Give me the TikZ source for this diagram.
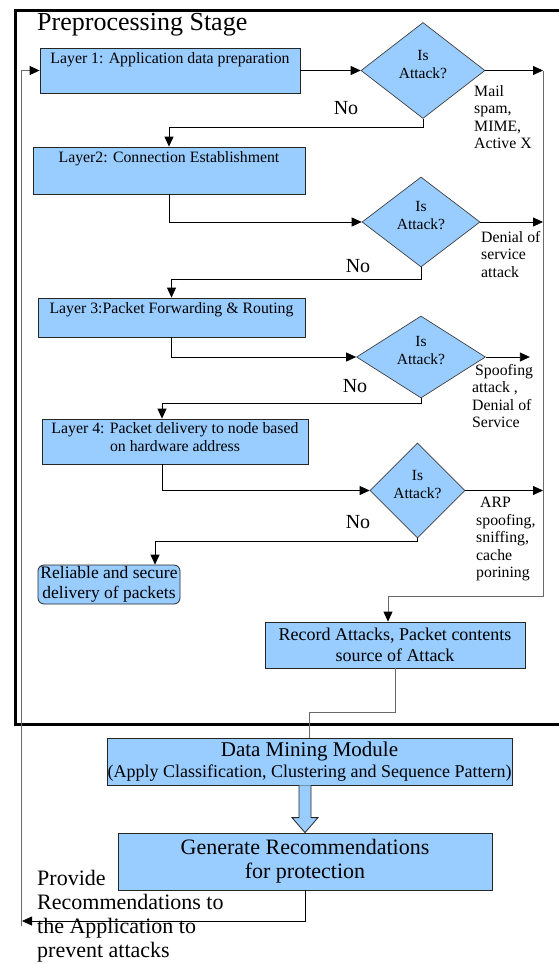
\documentclass[tikz,border=0pt]{standalone}
\usepackage{fontspec}
\setmainfont{Liberation Serif}
\usetikzlibrary{arrows.meta,positioning,calc,shapes.geometric}
\definecolor{boxblue}{HTML}{99CCFF}
\definecolor{lineg}{HTML}{6A6A6A}

\begin{document}
\begin{tikzpicture}[x=1pt,y=-1pt,
  font=\fontsize{15.8}{17.5}\selectfont,
  lay/.style    ={draw=black!85, fill=boxblue, line width=0.8pt, inner sep=0pt, align=center},
  laytxt/.style ={anchor=north, inner sep=0pt, yshift=-5pt, align=center},
  dec/.style    ={diamond, draw=black!75, fill=boxblue, line width=0.7pt, inner sep=0pt},
  dectxt/.style ={anchor=center, yshift=6pt, inner sep=0pt, align=center, font=\fontsize{15.5}{18}\selectfont},
  side/.style   ={anchor=north west, align=left, inner sep=0pt},
  no/.style     ={font=\fontsize{20}{22}\selectfont, inner sep=0pt},
  ar/.style     ={-{Triangle[length=10pt,width=9pt]}, line width=0.8pt},
  gl/.style     ={lineg, line width=0.9pt},
  gar/.style    ={gl, -{Triangle[length=10pt,width=9pt,black]}}
]
\useasboundingbox (0,0) rectangle (558,964);

% ---------- preprocessing frame ----------
\draw[line width=3pt] (15,10) rectangle (580,724);
\node[anchor=base west, inner sep=0pt, font=\fontsize{26}{28}\selectfont] (title) at (37,30) {Preprocessing Stage};

% ---------- layers and checks ----------
\node[lay, minimum width=260, minimum height=45,
      label={[laytxt]north:{Layer 1: Application data preparation}}] (l1) at (170,70.5) {};
\node[dec, minimum width=124, minimum height=96,
      label={[dectxt]center:{Is\\Attack?}}] (d1) at (423,70.5) {};
\node[lay, minimum width=272, minimum height=47,
      label={[laytxt]north:{Layer2: Connection Establishment}}] (l2) at (169,170.5) {};
\node[dec, minimum width=118, minimum height=90,
      label={[dectxt]center:{Is\\Attack?}}] (d2) at (421,222) {};
\node[lay, minimum width=267, minimum height=39,
      label={[laytxt]north:{Layer 3:Packet Forwarding \& Routing}}] (l3) at (171.5,317.5) {};
\node[dec, minimum width=129, minimum height=82,
      label={[dectxt]center:{Is\\Attack?}}] (d3) at (421,357) {};
\node[lay, minimum width=266, minimum height=45,
      label={[laytxt, yshift=1pt]north:{Layer 4: Packet delivery to node based\\on hardware address}}] (l4) at (175,441.5) {};
\node[dec, minimum width=95, minimum height=95,
      label={[dectxt]center:{Is\\Attack?}}] (d4) at (417.5,490.5) {};
\node[lay, rounded corners=6pt, minimum width=142, minimum height=39,
      font=\fontsize{17.5}{19.5}\selectfont] (rel) at (109,584.5) {Reliable and secure\\delivery of packets};
\node[lay, minimum width=260, minimum height=46,
      font=\fontsize{18}{21}\selectfont] (rec) at (395,645) {Record Attacks, Packet contents\\source of Attack};

% ---------- outside the frame ----------
\node[lay, minimum width=405, minimum height=47] (dm) at (309.5,761.5)
  {\fontsize{21}{21}\selectfont Data Mining Module\\[3pt]
   \fontsize{18}{20}\selectfont(Apply Classification, Clustering and Sequence Pattern)};
\node[lay, minimum width=374, minimum height=57,
      font=\fontsize{22}{24}\selectfont] (gen) at (305,861.5) {Generate Recommendations\\for protection};

% ---------- side texts ----------
\node[side] (atk1) at (474,85)  {Mail\\spam,\\MIME,\\Active X};
\node[side] (atk2) at (481,231) {Denial of\\service\\attack};
\node[side] (atk3) at (472,364) {\hspace{3pt}Spoofing\\attack ,\\Denial of\\Service};
\node[side] (atk4) at (476,497) {\hspace{4pt}ARP\\spoofing,\\sniffing,\\cache\\porining};
\node[no] (no1) at (346,108) {No};
\node[no] (no2) at (358,266) {No};
\node[no] (no3) at (355,386) {No};
\node[no] (no4) at (358,522) {No};
\node[anchor=north west, align=left, inner sep=0pt, font=\fontsize{22}{24}\selectfont]
  (prov) at (37,870) {Provide\\Recommendations to\\the Application to\\prevent attacks};

% ---------- connectors ----------
\coordinate (rx) at (543,0);
\coordinate (rb) at (543,596);
\coordinate (lb) at (22,921);
\coordinate (lt) at (21,926);

\draw[ar] (l1) -- (d1);
\draw[ar] (d1.east) -- (d1.east -| rx);
\draw[ar] (d1.south) -- ++(0,9) -| (l2.north);
\draw[ar] (l2.south) |- (d2.west);
\draw[ar] (d2.east) -- (d2.east -| rx);
\draw[ar] (d2.south) -- ++(0,12) -| (l3.north);
\draw[ar] (l3.south) |- (d3.west);
\draw[ar] (d3.east) -- ++(44,0);
\draw[ar] (d3.south) -- ++(0,5) -| ($(l4.north)+(-13,0)$);
\draw[ar] ($(l4.south)+(-13,0)$) |- (d4.west);
\draw[ar] (d4.east) -- (d4.east -| rx);
\draw[ar] (d4.south) -- ++(0,3) -| ($(rel.north)+(46,0)$);
\draw[gar] (d1.east -| rx) -- (rb) -| ($(rec.north)+(-7,0)$);
\draw[gl] (rec.south) -- ++(0,44) -| (dm.north);
\draw[lay] ($(dm.south -| gen.north)+(-6,0)$) -- ($(gen.north)+(-6,-15)$) -- ++(-7,0)
  -- (gen.north) -- ++(13,-15) -- ++(-7,0) -- ($(dm.south -| gen.north)+(6,0)$);
\draw[ar] (gen.south) |- (lb);
\draw[gar] (lt) |- (l1.west);
\end{tikzpicture}
\end{document}
